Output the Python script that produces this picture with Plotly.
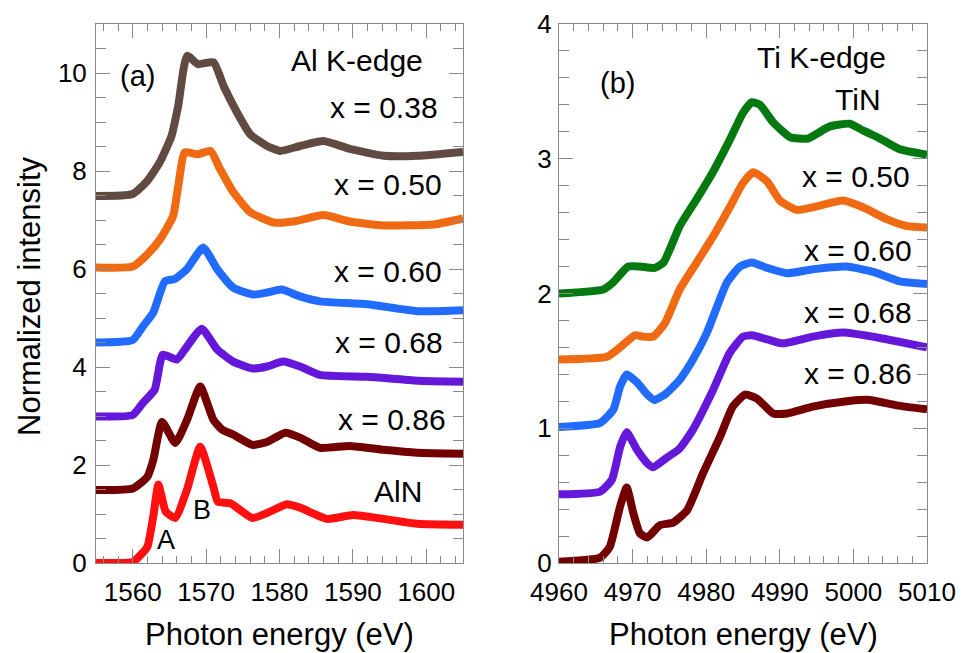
import plotly.graph_objects as go

# ---------------- Panel (a): Al K-edge ----------------
al_x038 = [1555, 1560, 1562, 1563.7, 1565.3, 1566.2, 1567.4, 1568.9, 1571, 1572.4, 1574.2, 1576, 1578.3, 1580.1, 1582.8, 1586, 1589.6, 1594.2, 1598.8, 1605]
al_y038 = [7.49, 7.53, 7.8, 8.18, 8.72, 9.33, 10.35, 10.18, 10.22, 9.73, 9.2, 8.75, 8.51, 8.41, 8.51, 8.61, 8.45, 8.31, 8.31, 8.39]

al_x050 = [1555, 1560, 1562, 1563.7, 1565.5, 1566.2, 1567.1, 1568.8, 1570.6, 1571.9, 1573.7, 1576, 1579.2, 1581.9, 1586, 1589.6, 1594.2, 1601, 1605]
al_y050 = [6.03, 6.05, 6.3, 6.6, 7.08, 7.69, 8.38, 8.34, 8.41, 8.04, 7.57, 7.16, 6.95, 6.97, 7.1, 6.97, 6.89, 6.91, 7.03]

al_x060 = [1555, 1560, 1561.4, 1562.8, 1564.4, 1565.8, 1567.4, 1569.6, 1571.5, 1573.7, 1576.4, 1578.3, 1580.3, 1582.8, 1585.5, 1592, 1598.8, 1605]
al_y060 = [4.5, 4.55, 4.83, 5.11, 5.75, 5.8, 6.0, 6.44, 6.0, 5.62, 5.48, 5.52, 5.58, 5.44, 5.34, 5.28, 5.14, 5.16]

al_x068 = [1555, 1560, 1561.4, 1563, 1564.1, 1566, 1567.4, 1569.4, 1571.5, 1573.7, 1576.3, 1578.3, 1580.5, 1582.8, 1585.5, 1592, 1598.8, 1605]
al_y068 = [2.99, 3.02, 3.27, 3.54, 4.25, 4.15, 4.42, 4.78, 4.36, 4.11, 3.97, 4.01, 4.11, 4.01, 3.84, 3.8, 3.72, 3.7]

al_x086 = [1555, 1560, 1562, 1562.8, 1564, 1565.8, 1567.4, 1569.2, 1571, 1572.2, 1573.7, 1576.3, 1578.3, 1580.8, 1582.8, 1585.5, 1589.6, 1594.2, 1598.8, 1605]
al_y086 = [1.49, 1.52, 1.76, 2.1, 2.88, 2.45, 2.92, 3.6, 2.92, 2.72, 2.62, 2.41, 2.47, 2.66, 2.56, 2.35, 2.39, 2.31, 2.25, 2.23]

al_xAlN = [1555, 1560, 1561, 1562, 1562.8, 1563.5, 1564.5, 1565.8, 1567.4, 1569.2, 1571, 1571.6, 1573.3, 1576.3, 1578.3, 1581, 1582.8, 1586.5, 1590, 1594.2, 1598.8, 1605]
al_yAlN = [0.0, 0.02, 0.15, 0.33, 0.95, 1.6, 1.05, 0.92, 1.5, 2.37, 1.55, 1.25, 1.22, 0.92, 1.02, 1.2, 1.13, 0.9, 0.98, 0.9, 0.8, 0.78]

# ---------------- Panel (b): Ti K-edge ----------------
ti_xTiN = [4960, 4966, 4967.3, 4969.4, 4971, 4973, 4974.2, 4976.4, 4978.7, 4980.9, 4983.2, 4985, 4986.2, 4987.3, 4989.1, 4991.4, 4993.8, 4996.8, 4999.5, 5001.3, 5003.6, 5006.3, 5010]
ti_yTiN = [2.0, 2.03, 2.08, 2.2, 2.2, 2.19, 2.23, 2.5, 2.7, 2.9, 3.14, 3.34, 3.42, 3.4, 3.27, 3.16, 3.15, 3.24, 3.26, 3.21, 3.15, 3.07, 3.03]

ti_x050 = [4960, 4966.5, 4968.3, 4970.3, 4971.4, 4972.8, 4974.4, 4976.4, 4978.7, 4980.9, 4983.2, 4985, 4986.4, 4988.3, 4990, 4992.3, 4994.5, 4998.6, 5001.3, 5004.6, 5007.3, 5010]
ti_y050 = [1.51, 1.53, 1.6, 1.69, 1.68, 1.68, 1.78, 2.03, 2.23, 2.42, 2.64, 2.82, 2.9, 2.83, 2.69, 2.62, 2.64, 2.69, 2.64, 2.55, 2.5, 2.49]

ti_x060 = [4960, 4965.6, 4967.4, 4968.3, 4969.2, 4970.6, 4972, 4973, 4974.6, 4976.4, 4978.2, 4980.1, 4982.8, 4984.6, 4986.2, 4988.3, 4991, 4994.5, 4999.1, 5002.7, 5006.3, 5010]
ti_y060 = [1.01, 1.04, 1.14, 1.31, 1.4, 1.34, 1.25, 1.21, 1.26, 1.36, 1.51, 1.71, 2.08, 2.2, 2.23, 2.19, 2.15, 2.18, 2.2, 2.16, 2.09, 2.07]

ti_x068 = [4960, 4965.6, 4967.2, 4968.3, 4969.2, 4970.6, 4972, 4972.8, 4974.6, 4976.4, 4978.2, 4980.9, 4983.2, 4985, 4986.2, 4988.3, 4990.4, 4994.5, 4998.6, 5003.6, 5010]
ti_y068 = [0.51, 0.53, 0.62, 0.86, 0.97, 0.84, 0.74, 0.71, 0.78, 0.85, 0.99, 1.28, 1.56, 1.68, 1.69, 1.66, 1.63, 1.68, 1.71, 1.67, 1.6]

ti_x086 = [4960, 4965.6, 4966.9, 4968.3, 4969.2, 4970.1, 4971, 4972, 4973.7, 4975.5, 4977.4, 4979.6, 4981.9, 4983.6, 4985.3, 4986.9, 4989.1, 4991, 4994.5, 4999.1, 5002.2, 5005.9, 5010]
ti_y086 = [0.01, 0.04, 0.12, 0.42, 0.56, 0.37, 0.22, 0.19, 0.28, 0.3, 0.39, 0.67, 0.94, 1.16, 1.25, 1.22, 1.11, 1.11, 1.16, 1.2, 1.21, 1.17, 1.14]

# tick values
a_xticks = [1560, 1570, 1580, 1590, 1600]
a_yticks = [0, 2, 4, 6, 8, 10]
b_xticks = [4960, 4970, 4980, 4990, 5000, 5010]
b_yticks = [0, 1, 2, 3, 4]

C_BROWN = "#614a42"
C_ORANGE = "#ef6a12"
C_BLUE = "#226bff"
C_PURPLE = "#6618da"
C_DARKRED = "#720000"
C_RED = "#ff1010"
C_GREEN = "#04790f"

LW = 8
FONT = "Liberation Sans, Arial, Helvetica, sans-serif"

fig = go.Figure()

series_a = [
    (al_xAlN, al_yAlN, C_RED),
    (al_x086, al_y086, C_DARKRED),
    (al_x068, al_y068, C_PURPLE),
    (al_x060, al_y060, C_BLUE),
    (al_x050, al_y050, C_ORANGE),
    (al_x038, al_y038, C_BROWN),
]
for xs, ys, c in series_a:
    fig.add_trace(go.Scatter(x=xs, y=ys, mode="lines", xaxis="x", yaxis="y",
                             line=dict(color=c, width=LW, shape="spline", smoothing=0.5),
                             showlegend=False))

series_b = [
    (ti_x086, ti_y086, C_DARKRED),
    (ti_x068, ti_y068, C_PURPLE),
    (ti_x060, ti_y060, C_BLUE),
    (ti_x050, ti_y050, C_ORANGE),
    (ti_xTiN, ti_yTiN, C_GREEN),
]
for xs, ys, c in series_b:
    fig.add_trace(go.Scatter(x=xs, y=ys, mode="lines", xaxis="x2", yaxis="y2",
                             line=dict(color=c, width=LW, shape="spline", smoothing=0.5),
                             showlegend=False))

AX_COLOR = "#8a8a8a"
W, H = 963, 653
ydom = [(H - 563) / H, (H - 24) / H]

common = dict(showgrid=False, zeroline=False, showline=True, linecolor=AX_COLOR,
              linewidth=1, mirror="ticks", ticks="inside", tickcolor=AX_COLOR,
              tickwidth=1, tickfont=dict(family=FONT, size=26, color="black"),
              automargin=False)

fig.update_layout(
    width=W, height=H,
    margin=dict(l=0, r=0, t=0, b=0),
    paper_bgcolor="white", plot_bgcolor="white",
    xaxis=dict(domain=[96 / W, 463 / W], range=[1555, 1605], tickvals=a_xticks,
               ticklen=14, anchor="y", ticklabelstandoff=6,
               minor=dict(dtick=2, tick0=1556, ticklen=7, ticks="inside", tickcolor=AX_COLOR),
               **common),
    yaxis=dict(domain=ydom, range=[0, 11], tickvals=a_yticks, ticklen=14, anchor="x",
               ticklabelstandoff=3,
               minor=dict(dtick=0.5, tick0=0, ticklen=10, ticks="inside", tickcolor=AX_COLOR),
               **common),
    xaxis2=dict(domain=[559 / W, 927 / W], range=[4960, 5010], tickvals=b_xticks,
                ticklen=14, anchor="y2", ticklabelstandoff=6,
                minor=dict(dtick=2, tick0=4960, ticklen=7, ticks="inside", tickcolor=AX_COLOR),
                **common),
    yaxis2=dict(domain=ydom, range=[0, 4], tickvals=b_yticks, ticklen=14, anchor="x2",
                ticklabelstandoff=1,
                minor=dict(dtick=0.2, tick0=0, ticklen=10, ticks="inside", tickcolor=AX_COLOR),
                **common),
)

ann = []
def A(text, x, y, xref, yref, xanchor="center", size=30):
    ann.append(dict(text=text, x=x, y=y, xref=xref, yref=yref, xanchor=xanchor,
                    yanchor="middle", showarrow=False,
                    font=dict(family=FONT, size=size, color="black")))

# Panel a labels
A("(a)", 1560.6, 9.94, "x", "y", size=29)
A("Al K-edge", 1590.6, 10.25, "x", "y")
A("x = 0.38", 1601.8, 9.3, "x", "y", "right")
A("x = 0.50", 1602.4, 7.73, "x", "y", "right")
A("x = 0.60", 1602.4, 5.95, "x", "y", "right")
A("x = 0.68", 1602.5, 4.5, "x", "y", "right")
A("x = 0.86", 1602.9, 2.92, "x", "y", "right")
A("AlN", 1596.2, 1.45, "x", "y")
A("A", 1564.5, 0.47, "x", "y", size=27)
A("B", 1569.5, 1.08, "x", "y", size=27)

# Panel b labels
A("(b)", 4967.9, 3.56, "x2", "y2", size=29)
A("Ti K-edge", 4995.7, 3.75, "x2", "y2")
A("TiN", 5000.6, 3.44, "x2", "y2")
A("x = 0.50", 5007.9, 2.87, "x2", "y2", "right")
A("x = 0.60", 5008.2, 2.32, "x2", "y2", "right")
A("x = 0.68", 5008.3, 1.86, "x2", "y2", "right")
A("x = 0.86", 5008.2, 1.41, "x2", "y2", "right")

# Axis titles
TITLE_FONT = dict(family=FONT, size=31, color="black")
ann.append(dict(text="Photon energy (eV)", x=279.5 / W, y=(H - 634) / H, xref="paper", yref="paper",
                showarrow=False, xanchor="center", yanchor="middle", font=TITLE_FONT))
ann.append(dict(text="Photon energy (eV)", x=743 / W, y=(H - 634) / H, xref="paper", yref="paper",
                showarrow=False, xanchor="center", yanchor="middle", font=TITLE_FONT))
ann.append(dict(text="Normalized intensity", x=29 / W, y=(H - 296) / H, xref="paper", yref="paper",
                showarrow=False, xanchor="center", yanchor="middle", textangle=-90,
                font=TITLE_FONT))

fig.update_layout(annotations=ann)

fig.write_html("out.html", config={"displayModeBar": False},
               post_script="document.body.style.margin='0';")
